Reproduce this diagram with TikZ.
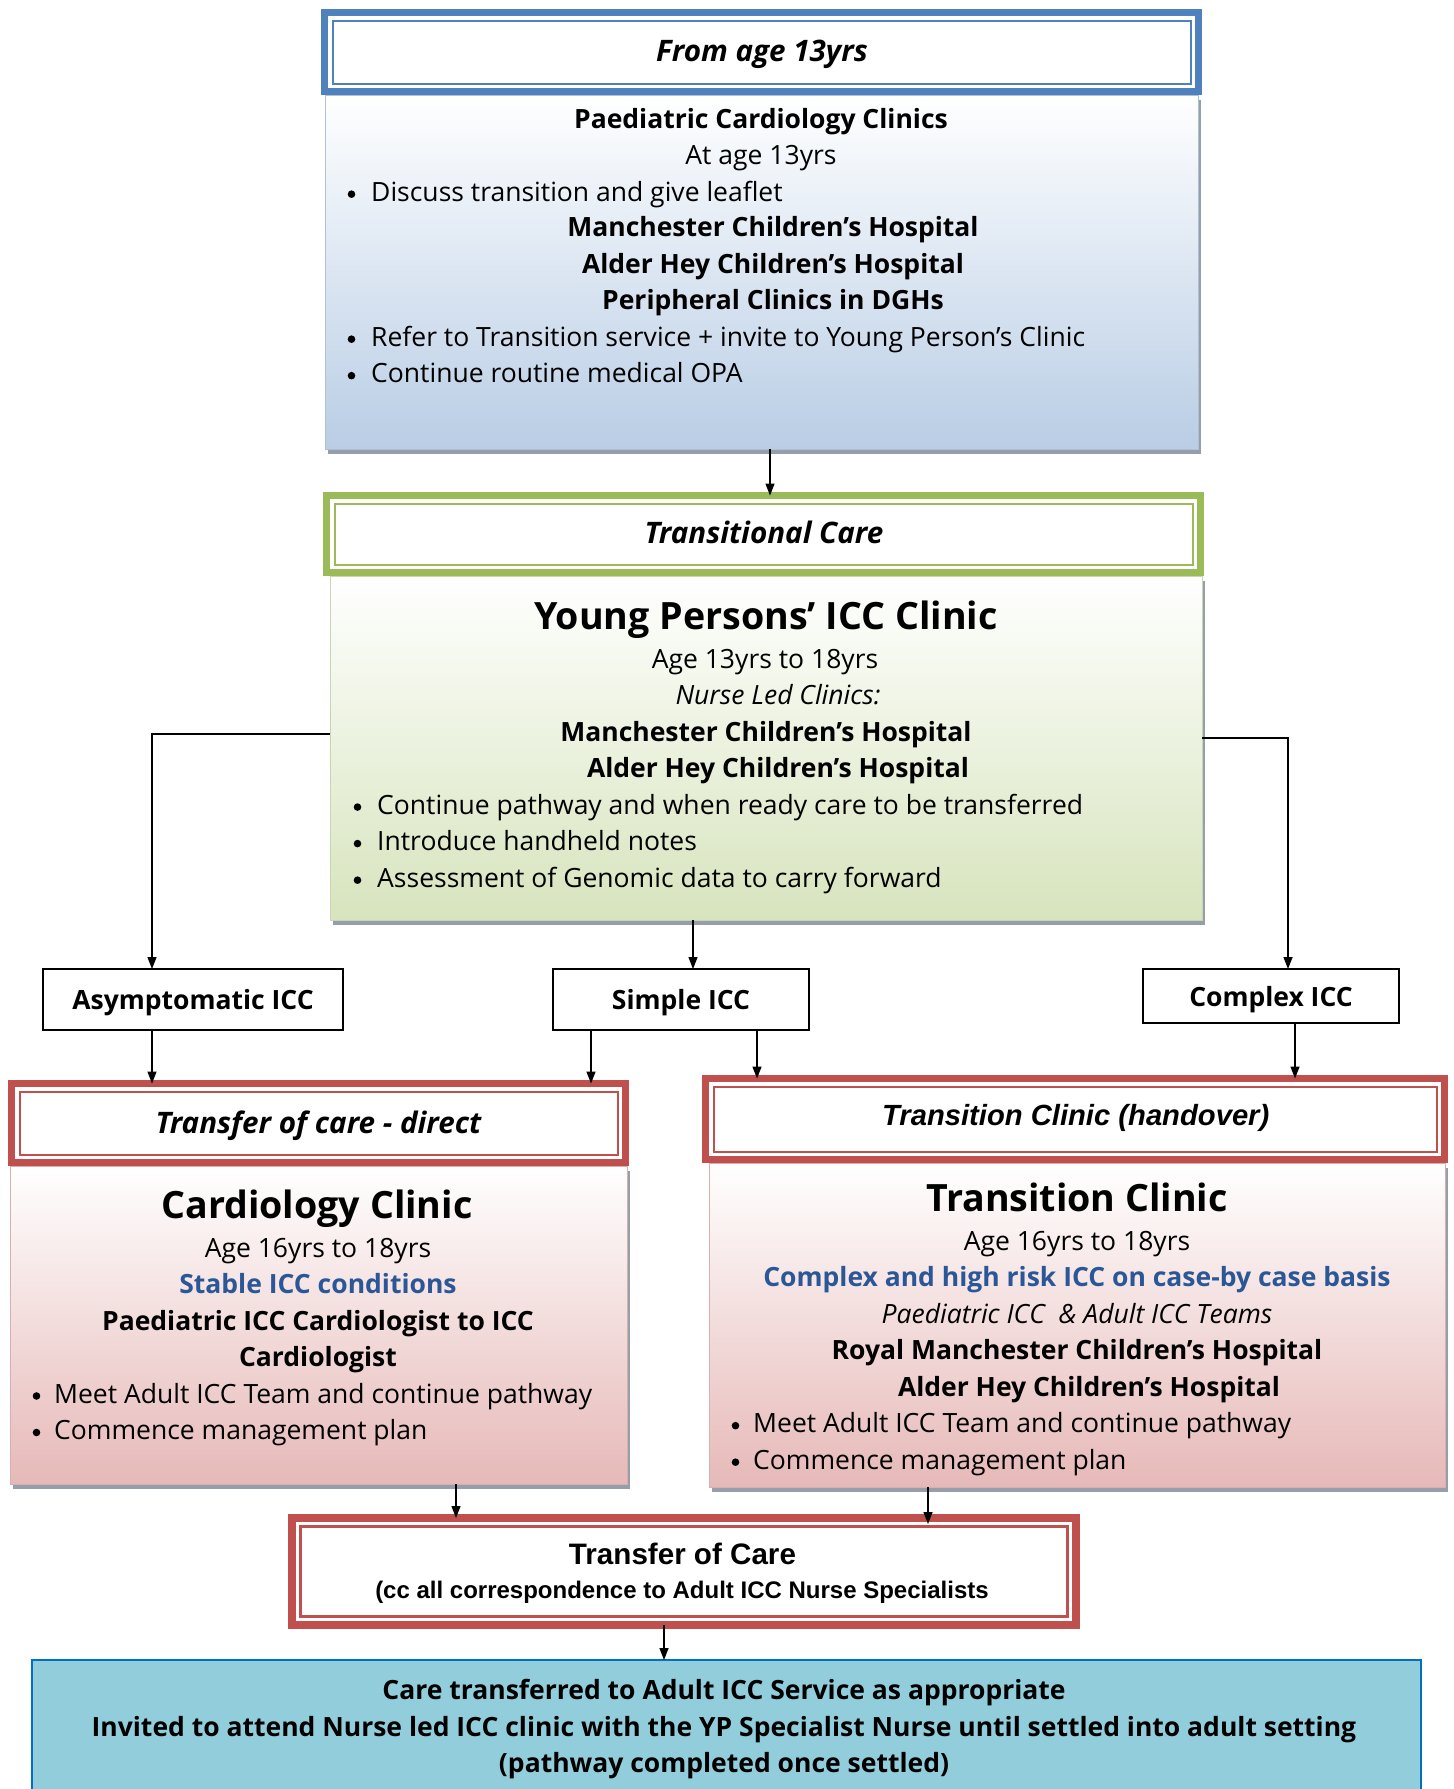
\documentclass[tikz,border=0pt]{standalone}
\usepackage{fontspec}
\setmainfont{Open Sans}
\newfontfamily\arialfam{Liberation Sans}
\usetikzlibrary{arrows.meta,shadows,calc}
\definecolor{bfr}{RGB}{79,129,189}
\definecolor{bbot}{RGB}{185,205,229}
\definecolor{gfr}{RGB}{155,187,89}
\definecolor{gbot}{RGB}{215,228,189}
\definecolor{rfr}{RGB}{192,80,77}
\definecolor{rbot}{RGB}{230,185,184}
\definecolor{cyanbox}{RGB}{146,205,220}
\definecolor{cyanedge}{RGB}{0,112,192}
\definecolor{txtblue}{RGB}{43,87,151}
\definecolor{shd}{RGB}{150,158,170}
\newcommand\szn{\fontsize{26.5pt}{32pt}\selectfont}
\newcommand\szbig{\fontsize{37.6pt}{44pt}\selectfont}
\newcommand\szhdr{\fontsize{29.6pt}{35pt}\selectfont}
\tikzset{
  hdrframe/.style={draw=#1, line width=7pt, fill=white, inner sep=0pt, outer sep=0pt},
  innerline/.style={draw=#1, line width=2pt},
  bodybox/.style={draw=#1!85!gray, line width=1pt, top color=white, bottom color=#1,
    inner sep=0pt, outer sep=0pt,
    drop shadow={shadow xshift=3pt, shadow yshift=-5pt, fill=shd, opacity=1}},
  tx/.style={anchor=mid, inner sep=0pt, font=\szn, yshift=-7pt},
  txbig/.style={anchor=mid, inner sep=0pt, font=\szbig\bfseries, yshift=-11.5pt},
  txhdr/.style={anchor=mid, inner sep=0pt, font=\szhdr\bfseries\itshape, yshift=-7.5pt},
  txl/.style={anchor=mid west, inner sep=0pt, font=\szn, yshift=-7pt},
  catbox/.style={draw=black, line width=2pt, fill=white, inner sep=0pt, outer sep=0pt,
    font=\szn\bfseries, text height=20pt, text depth=0pt},
  arr/.style={draw=black, line width=1.3pt, -{Triangle[length=12pt,width=9pt]}}
}
\begin{document}
\begin{tikzpicture}[x=1pt,y=-1pt]
\useasboundingbox[fill=white] (0,0) rectangle (1454,1789);

% ---------- top (blue) ----------
\node[bodybox=bbot, minimum width=873pt, minimum height=354pt, anchor=north] (b1) at (761.5,95) {};
\node[hdrframe=bfr, minimum width=874pt, minimum height=79pt] (h1) at (761.5,52) {};
\draw[innerline=bfr] ([shift={(8,8)}]h1.north west) rectangle ([shift={(-8,-8)}]h1.south east);
\node[txhdr] (h1t) at (762,51.4) {From age 13yrs};
\node[tx] (t11) at (761,118.7) {\bfseries Paediatric Cardiology Clinics};
\node[tx] (t12) at (761,155.2) {At age 13yrs};
\node[txl] (t13) at (347,191.7) {\hspace*{24pt}Discuss transition and give leaflet};
\node[tx] (t14) at (773,227.1) {\bfseries Manchester Children’s Hospital};
\node[tx] (t15) at (773,263.6) {\bfseries Alder Hey Children’s Hospital};
\node[tx] (t16) at (773,300.2) {\bfseries Peripheral Clinics in DGHs};
\node[txl] (t17) at (347,336.7) {\hspace*{24pt}Refer to Transition service + invite to Young Person’s Clinic};
\node[txl] (t18) at (347,373.2) {\hspace*{24pt}Continue routine medical OPA};

% ---------- green ----------
\node[bodybox=gbot, minimum width=872pt, minimum height=344pt, anchor=north] (b2) at (766,576) {};
\node[hdrframe=gfr, minimum width=874pt, minimum height=77pt] (h2) at (763.5,534) {};
\draw[innerline=gfr] ([shift={(8,8)}]h2.north west) rectangle ([shift={(-8,-8)}]h2.south east);
\node[txhdr] (h2t) at (764,533) {Transitional Care};
\node[txbig] (t21) at (766,615.2) {Young Persons’ ICC Clinic};
\node[tx] (t22) at (765,658.5) {Age 13yrs to 18yrs};
\node[tx] (t23) at (778,695) {\itshape Nurse Led Clinics:};
\node[tx] (t24) at (766,731.6) {\bfseries Manchester Children’s Hospital};
\node[tx] (t25) at (778,768) {\bfseries Alder Hey Children’s Hospital};
\node[txl] (t26) at (353,804.6) {\hspace*{24pt}Continue pathway and when ready care to be transferred};
\node[txl] (t27) at (353,841.1) {\hspace*{24pt}Introduce handheld notes};
\node[txl] (t28) at (353,877.7) {\hspace*{24pt}Assessment of Genomic data to carry forward};

% ---------- category boxes ----------
\node[catbox, minimum width=300pt, minimum height=61pt] (asym) at (193,999.5) {Asymptomatic ICC};
\node[catbox, minimum width=256pt, minimum height=61pt] (simp) at (681,999.5) {Simple ICC};
\node[catbox, minimum width=256pt, minimum height=54pt] (cplx) at (1271,996) {Complex ICC};

% ---------- left red ----------
\node[bodybox=rbot, minimum width=617pt, minimum height=318pt, anchor=north] (b3) at (318.5,1166) {};
\node[hdrframe=rfr, minimum width=614pt, minimum height=79pt] (h3) at (318.5,1123) {};
\draw[innerline=rfr] ([shift={(8,8)}]h3.north west) rectangle ([shift={(-8,-8)}]h3.south east);
\node[txhdr] (h3t) at (318.4,1123) {Transfer of care - direct};
\node[txbig] (t31) at (317,1204) {Cardiology Clinic};
\node[tx] (t32) at (318,1247.4) {Age 16yrs to 18yrs};
\node[tx, text=txtblue] (t33) at (318,1284) {\bfseries Stable ICC conditions};
\node[tx] (t34) at (318,1320.5) {\bfseries Paediatric ICC Cardiologist to ICC};
\node[tx] (t35) at (318,1357) {\bfseries Cardiologist};
\node[txl] (t36) at (32,1393.5) {\hspace*{22pt}Meet Adult ICC Team and continue pathway};
\node[txl] (t37) at (32,1430) {\hspace*{22pt}Commence management plan};

% ---------- right red ----------
\node[bodybox=rbot, minimum width=736pt, minimum height=324pt, anchor=north] (b4) at (1077,1163) {};
\node[hdrframe=rfr, minimum width=739pt, minimum height=81pt] (h4) at (1075,1119) {};
\draw[innerline=rfr] ([shift={(8,8)}]h4.north west) rectangle ([shift={(-8,-8)}]h4.south east);
\node[txhdr, font=\arialfam\fontsize{29.2pt}{35pt}\selectfont\bfseries\itshape] (h4t) at (1075.7,1115) {Transition Clinic (handover)};
\node[txbig] (t41) at (1077,1197.2) {Transition Clinic};
\node[tx] (t42) at (1077,1240.6) {Age 16yrs to 18yrs};
\node[tx, text=txtblue] (t43) at (1077,1277) {\bfseries Complex and high risk ICC on case-by case basis};
\node[tx] (t44) at (1077,1313.6) {\itshape Paediatric ICC\ \ \& Adult ICC Teams};
\node[tx] (t45) at (1077,1350.2) {\bfseries Royal Manchester Children’s Hospital};
\node[tx] (t46) at (1089,1386.7) {\bfseries Alder Hey Children’s Hospital};
\node[txl] (t47) at (731,1423.2) {\hspace*{22pt}Meet Adult ICC Team and continue pathway};
\node[txl] (t48) at (731,1459.7) {\hspace*{22pt}Commence management plan};

% ---------- bullets ----------
\foreach \n in {t13,t17,t18,t26,t27,t28,t36,t37,t47,t48}
  \fill[black] ($(\n.base west)+(4.5,-7.2)$) circle (3.8pt);

% ---------- transfer of care ----------
\node[hdrframe=rfr, line width=8pt, minimum width=784pt, minimum height=107pt] (toc) at (684,1571.5) {};
\draw[innerline=rfr, line width=2.5pt] ([shift={(8.5,8.5)}]toc.north west) rectangle ([shift={(-8.5,-8.5)}]toc.south east);
\node[tx, font=\arialfam\bfseries\fontsize{29.6pt}{35pt}\selectfont] (toc1) at (682.5,1554.5) {Transfer of Care};
\node[tx, font=\arialfam\bfseries\fontsize{24pt}{28pt}\selectfont, yshift=-4.6pt] (toc2) at (682,1584) {(cc all correspondence to Adult ICC Nurse Specialists};

% ---------- final ----------
\node[draw=cyanedge, line width=2pt, fill=cyanbox, minimum width=1389pt, minimum height=170pt, anchor=north, inner sep=0pt, outer sep=0pt] (fin) at (726,1660) {};
\node[tx] (f1) at (724,1690.3) {\bfseries Care transferred to Adult ICC Service as appropriate};
\node[tx] (f2) at (724,1726.8) {\bfseries Invited to attend Nurse led ICC clinic with the YP Specialist Nurse until settled into adult setting};
\node[tx] (f3) at (724,1763.3) {\bfseries (pathway completed once settled)};

% ---------- connectors ----------
\coordinate (xa) at (770,0);
\draw[arr] (b1.south -| xa) -- (h2.north -| xa);
\coordinate (lc) at (152,734);
\draw[arr] (b2.west |- lc) -- (lc) -- (lc |- asym.north);
\coordinate (rc) at (1288,738);
\draw[arr] (b2.east |- rc) -- (rc) -- (rc |- cplx.north);
\coordinate (xm) at (693,0);
\draw[arr] (b2.south -| xm) -- (simp.north -| xm);
\coordinate (xas) at (152,0);
\draw[arr] (asym.south -| xas) -- (h3.north -| xas);
\coordinate (xs1) at (591,0);
\draw[arr] (simp.south -| xs1) -- (h3.north -| xs1);
\coordinate (xs2) at (757,0);
\draw[arr] (simp.south -| xs2) -- (h4.north -| xs2);
\coordinate (xc) at (1295,0);
\draw[arr] (cplx.south -| xc) -- (h4.north -| xc);
\coordinate (xl) at (456,0);
\draw[arr] (b3.south -| xl) -- (toc.north -| xl);
\coordinate (xr) at (928,0);
\draw[arr] (b4.south -| xr) -- ([yshift=-6pt]toc.north -| xr);
\coordinate (xf) at (664,0);
\draw[arr] (toc.south -| xf) -- (fin.north -| xf);
\end{tikzpicture}
\end{document}
